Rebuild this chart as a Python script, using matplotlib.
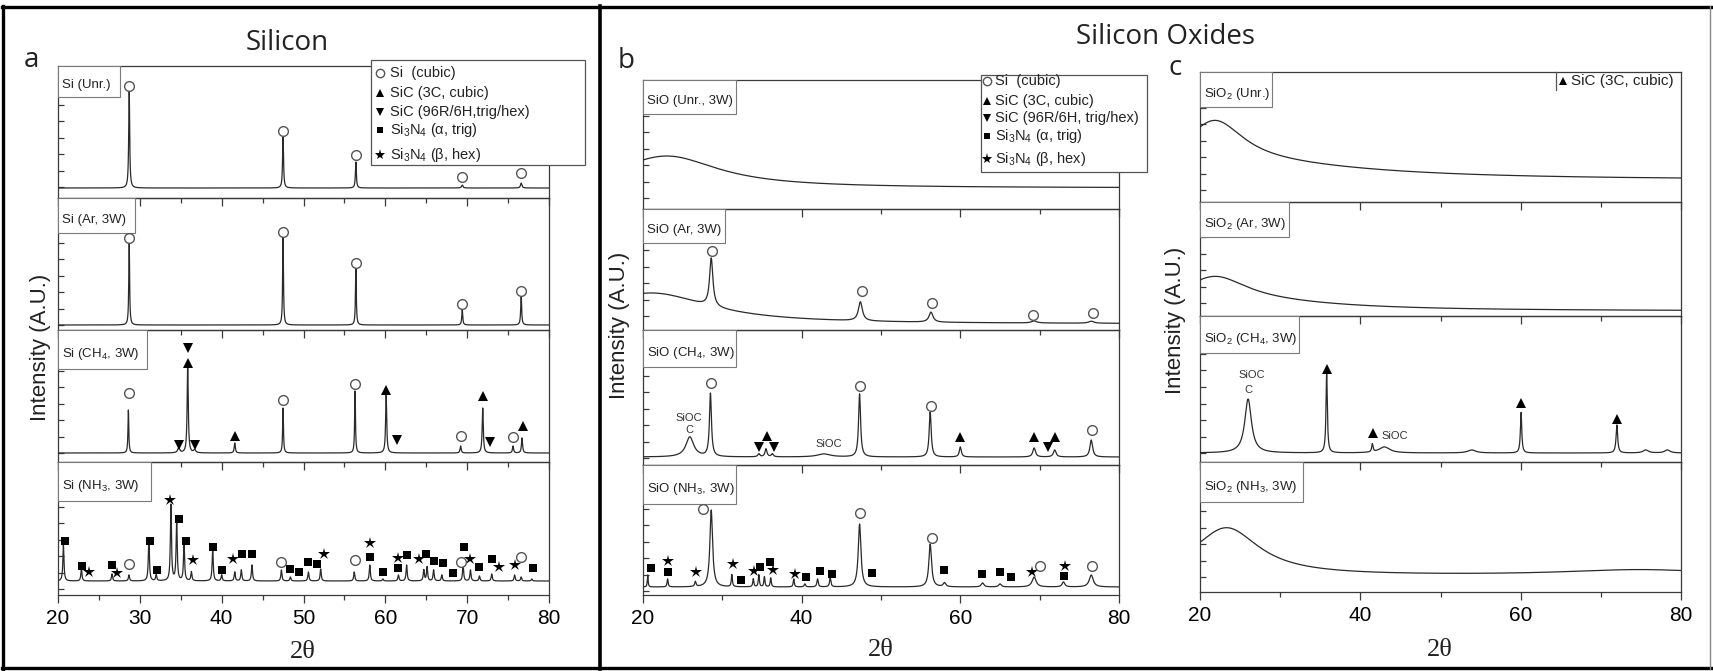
import numpy as np
import matplotlib.pyplot as plt
from matplotlib.lines import Line2D
from matplotlib.patches import Rectangle
from matplotlib.ticker import MultipleLocator

plt.rcParams['font.family'] = ['Liberation Sans', 'DejaVu Sans']
plt.rcParams['mathtext.fontset'] = 'custom'
plt.rcParams['mathtext.rm'] = 'Liberation Sans'
plt.rcParams['mathtext.it'] = 'Liberation Sans:italic'
plt.rcParams['mathtext.bf'] = 'Liberation Sans:bold'

W, H = 1713, 671

# 2theta sampling grid (degrees)
two_theta = np.linspace(20, 80, 3001)

# ---------------- Panel a : Silicon ----------------
# peaks: position (deg), height above baseline, half width (deg); intensities in A.U.
si_unr_base = 10
si_unr_pos = [28.7, 47.5, 56.4, 69.4, 76.6]
si_unr_hgt = [98, 51, 26, 3, 5]
si_unr_wid = [0.07, 0.07, 0.07, 0.1, 0.1]
si_unr_circ_x = [28.7, 47.5, 56.4, 69.4, 76.6]
si_unr_circ_y = [112, 67, 43, 21, 25]

si_ar_base = 5
si_ar_pos = [28.7, 47.5, 56.4, 69.4, 76.6]
si_ar_hgt = [83, 88, 57, 15, 29]
si_ar_wid = [0.06, 0.06, 0.06, 0.07, 0.07]
si_ar_circ_x = [28.7, 47.5, 56.4, 69.4, 76.6]
si_ar_circ_y = [92, 98, 67, 26, 39]

si_ch4_base = 9
si_ch4_pos = [28.6, 34.75, 35.85, 36.7, 41.6, 47.5, 56.3, 60.1, 69.2, 71.9, 75.6, 76.7]
si_ch4_hgt = [43, 5, 90, 3, 10, 45, 62, 58, 7, 45, 7, 15]
si_ch4_wid = [0.06, 0.15, 0.08, 0.15, 0.08, 0.06, 0.06, 0.08, 0.08, 0.08, 0.08, 0.08]
si_ch4_circ_x = [28.7, 47.5, 56.3, 69.2, 75.6]
si_ch4_circ_y = [69, 62, 78, 26, 25]
si_ch4_up_x = [35.85, 41.6, 60.1, 71.9, 76.8]
si_ch4_up_y = [99, 26, 72, 66, 36]
si_ch4_dn_x = [35.85, 34.75, 36.7, 61.4, 72.8]
si_ch4_dn_y = [114, 17, 17, 22, 20]

si_nh3_base = 14
si_nh3_pos = [20.66, 22.86, 26.6, 28.67, 31.1, 32.0, 33.8, 34.5, 35.4, 36.3, 38.9, 40.0,
              41.6, 42.4, 43.7, 47.3, 48.4, 50.6, 52.1, 56.2, 58.1, 59.7, 61.6, 62.6,
              64.7, 65.1, 65.9, 66.9, 69.5, 70.4, 71.5, 73.0, 75.8, 76.6, 77.9]
si_nh3_hgt = [36, 12, 7, 6, 42, 6, 76, 61, 37, 9, 32, 6,
              9, 11, 16, 11, 4, 9, 12, 9, 16, 2, 6, 16,
              11, 14, 11, 6, 16, 11, 5, 7, 6, 4, 2]
si_nh3_wid = [0.08] * 35
si_nh3_sq_x = [20.8, 22.95, 26.6, 31.2, 32.15, 34.75, 35.6, 39.0, 40.1, 42.45, 43.7, 48.4, 49.5,
               50.6, 51.7, 58.1, 59.7, 61.6, 62.6, 65.0, 65.9, 67.1, 68.3, 69.6, 71.45, 73.0, 78.1]
si_nh3_sq_y = [54, 29, 30, 54, 25, 76, 54, 48, 25, 41, 41, 26, 23,
               33, 31, 38, 23, 27, 40, 41, 34, 32, 22, 48, 28, 36, 27]
si_nh3_star_x = [23.8, 27.2, 33.7, 36.55, 41.4, 52.5, 58.1, 61.6, 64.1, 70.4, 73.9, 75.8]
si_nh3_star_y = [23, 22, 95, 35, 36, 41, 52, 37, 36, 36, 28, 30]
si_nh3_circ_x = [28.7, 47.3, 56.3, 69.2, 76.6]
si_nh3_circ_y = [31, 33, 35, 33, 38]

# ---------------- Panel b : SiO ----------------
sio_unr_base = 21
sio_unr_pos = [23.0]
sio_unr_hgt = [32]
sio_unr_wid = [8.0]

sio_ar_base = 6
sio_ar_pos = [21.0, 28.6, 47.4, 56.3, 69.3, 76.5]
sio_ar_hgt = [31, 48, 19, 10, 2, 2]
sio_ar_wid = [9.0, 0.25, 0.3, 0.3, 0.4, 0.4]
sio_ar_circ_x = [28.7, 47.6, 56.4, 69.2, 76.7]
sio_ar_circ_y = [79, 39, 27, 15, 17]

sio_ch4_base = 8
sio_ch4_pos = [25.9, 28.5, 34.6, 35.5, 36.3, 42.8, 47.3, 56.2, 60.0, 69.3, 71.9, 76.5]
sio_ch4_hgt = [20, 63, 3, 8, 3, 3, 63, 45, 10, 9, 7, 17]
sio_ch4_wid = [0.6, 0.15, 0.15, 0.15, 0.15, 1.0, 0.15, 0.15, 0.15, 0.2, 0.2, 0.2]
sio_ch4_circ_x = [28.6, 47.4, 56.3, 76.6]
sio_ch4_circ_y = [82, 79, 59, 35]
sio_ch4_up_x = [35.6, 60.0, 69.3, 71.9]
sio_ch4_up_y = [29, 28, 28, 28]
sio_ch4_dn_x = [34.6, 36.5, 71.0]
sio_ch4_dn_y = [18, 18, 18]
sio_ch4_note_x = [25.8, 25.9, 43.4]
sio_ch4_note_y = [47, 35, 21]
sio_ch4_note_txt = ['SiOC', 'C', 'SiOC']

sio_nh3_base = 8
sio_nh3_pos = [20.6, 23.1, 26.6, 28.6, 31.2, 33.9, 34.6, 35.3, 36.1, 39.0, 40.4, 42.0, 43.6,
               47.3, 56.2, 58.0, 62.8, 65.0, 69.3, 73.0, 76.5]
sio_nh3_hgt = [12, 8, 5, 77, 12, 8, 12, 10, 9, 8, 3, 8, 9, 63, 43, 4, 4, 3, 10, 5, 12]
sio_nh3_wid = [0.06, 0.08, 0.1, 0.2, 0.08, 0.08, 0.08, 0.08, 0.08, 0.08, 0.1, 0.1, 0.1,
               0.2, 0.2, 0.2, 0.2, 0.2, 0.3, 0.2, 0.3]
sio_nh3_sq_x = [21.0, 23.2, 32.3, 34.8, 36.0, 40.5, 42.25, 43.8, 48.9, 57.9, 62.7, 65.0, 66.4, 73.1]
sio_nh3_sq_y = [27, 23, 15, 28, 33, 18, 24, 21, 22, 25, 21, 23, 18, 19]
sio_nh3_star_x = [23.1, 26.7, 31.35, 34.0, 36.4, 39.1, 69.05, 73.2]
sio_nh3_star_y = [34, 23, 31, 24, 25, 21, 23, 29]
sio_nh3_circ_x = [27.5, 47.4, 56.4, 70.1, 76.6]
sio_nh3_circ_y = [86, 82, 57, 29, 29]

# ---------------- Panel c : SiO2 ----------------
sio2_unr_base = 22
sio2_unr_pos = [21.8, 25.0]
sio2_unr_hgt = [45, 15]
sio2_unr_wid = [4.5, 20.0]

sio2_ar_base = 5
sio2_ar_pos = [21.8, 25.0]
sio2_ar_hgt = [27, 8]
sio2_ar_wid = [5.0, 15.0]

sio2_ch4_base = 9
sio2_ch4_pos = [26.0, 35.8, 41.5, 43.0, 53.9, 60.05, 72.0, 75.6, 78.3]
sio2_ch4_hgt = [54, 79, 8, 6, 3, 41, 28, 3, 3]
sio2_ch4_wid = [0.5, 0.1, 0.1, 0.8, 0.6, 0.1, 0.12, 0.4, 0.4]
sio2_ch4_up_x = [35.8, 41.6, 60.1, 72.0]
sio2_ch4_up_y = [93, 29, 59, 43]
sio2_ch4_note_x = [26.4, 26.0, 44.3]
sio2_ch4_note_y = [87, 72, 26]
sio2_ch4_note_txt = ['SiOC', 'C', 'SiOC']

sio2_nh3_base = 16
sio2_nh3_pos = [23.3, 75.0]
sio2_nh3_hgt = [48, 6]
sio2_nh3_wid = [5.0, 12.0]

# sample labels
a_labels = ['Si (Unr.)', 'Si (Ar, 3W)', 'Si (CH$_4$, 3W)', 'Si (NH$_3$, 3W)']
b_labels = ['SiO (Unr., 3W)', 'SiO (Ar, 3W)', 'SiO (CH$_4$, 3W)', 'SiO (NH$_3$, 3W)']
c_labels = ['SiO$_2$ (Unr.)', 'SiO$_2$ (Ar, 3W)', 'SiO$_2$ (CH$_4$, 3W)', 'SiO$_2$ (NH$_3$, 3W)']

legend_a_txt = ['Si  (cubic)', 'SiC (3C, cubic)', 'SiC (96R/6H,trig/hex)',
                'Si$_3$N$_4$ (α, trig)', 'Si$_3$N$_4$ (β, hex)']
legend_b_txt = ['Si  (cubic)', 'SiC (3C, cubic)', 'SiC (96R/6H, trig/hex)',
                'Si$_3$N$_4$ (α, trig)', 'Si$_3$N$_4$ (β, hex)']


# ---------------- layout (pixels) ----------------
A_X, A_ROWS = (58, 549), [66, 198, 330, 462, 595]
B_X, B_ROWS = (643, 1119), [80, 209, 330, 465, 595]
C_X, C_ROWS = (1200, 1681), [72, 202, 316, 462, 592]
A_TICK0, B_TICK0, C_TICK0 = [11, 5, 9, 6], [11, 14, 7, 4], [12, 13, 9, 15]
A_BOX = [(62, 31), (77, 35), (89, 39), (93, 39)]
B_BOX = [(93, 34), (82, 34), (93, 37), (93, 39)]
C_BOX = [(72, 35), (89, 35), (99, 37), (103, 40)]

LINE_C = '#2a2a2a'
SPINE_C = '#3a3a3a'


def trace(base, pos, hgt, wid):
    y = np.full_like(two_theta, float(base))
    for p, h, w in zip(pos, hgt, wid):
        y += h / (1.0 + ((two_theta - p) / w) ** 2)
    return y


fig = plt.figure(figsize=(W / 100, H / 100), dpi=100)
fig.patch.set_facecolor('white')


def make_panel(xr, rows, tick0, boxes, labels, major, minor):
    axes = []
    x0, x1 = xr
    for i in range(4):
        y0, y1 = rows[i], rows[i + 1]
        ax = fig.add_axes([x0 / W, 1 - y1 / H, (x1 - x0) / W, (y1 - y0) / H])
        ax.patch.set_visible(False)
        rh = y1 - y0
        ax.set_xlim(20, 80)
        ax.set_ylim(0, rh)
        for s in ax.spines.values():
            s.set_color(SPINE_C)
            s.set_linewidth(0.9)
        ax.xaxis.set_major_locator(MultipleLocator(major))
        ax.xaxis.set_minor_locator(MultipleLocator(minor))
        ax.tick_params(axis='x', which='major', direction='out', length=6, width=0.9,
                       color=SPINE_C, labelsize=15, pad=4)
        ax.tick_params(axis='x', which='minor', direction='out', length=3.5, width=0.9,
                       color=SPINE_C)
        ax.set_yticks(np.arange(tick0[i], rh - 2, 16.5))
        ax.tick_params(axis='y', which='major', direction='in', length=4, width=0.9,
                       color=SPINE_C, labelleft=False)
        if i < 3:
            ax.tick_params(axis='x', labelbottom=False)
        bw, bh = boxes[i]
        ax.add_patch(Rectangle((0, 1 - bh / rh), bw / (x1 - x0), bh / rh, transform=ax.transAxes,
                               facecolor='white', edgecolor='#7a7a7a', lw=0.8, zorder=5))
        ax.text(4 / (x1 - x0), 1 - 0.62 * bh / rh, labels[i], transform=ax.transAxes,
                fontsize=9.5, ha='left', va='center', color='#222', zorder=6)
        axes.append(ax)
    return axes


def marks(ax, xs, ys, kind):
    if kind == 'o':
        ax.plot(xs, ys, ls='none', marker='o', ms=7, mfc='white', mec='#555', mew=1.0,
                zorder=7, clip_on=False)
    elif kind == '*':
        ax.plot(xs, ys, ls='none', marker='*', ms=9, color='black', mew=0, zorder=7, clip_on=False)
    elif kind == 's':
        ax.plot(xs, ys, ls='none', marker='s', ms=6.2, color='black', mew=0, zorder=7, clip_on=False)
    else:
        ax.plot(xs, ys, ls='none', marker=kind, ms=6.5, color='black', mew=0, zorder=7, clip_on=False)


def plot_trace(ax, base, pos, hgt, wid):
    ax.plot(two_theta, trace(base, pos, hgt, wid), color=LINE_C, lw=0.9, zorder=3)


# ---- panel a ----
ax_a = make_panel(A_X, A_ROWS, A_TICK0, A_BOX, a_labels, 10, 5)
plot_trace(ax_a[0], si_unr_base, si_unr_pos, si_unr_hgt, si_unr_wid)
marks(ax_a[0], si_unr_circ_x, si_unr_circ_y, 'o')
plot_trace(ax_a[1], si_ar_base, si_ar_pos, si_ar_hgt, si_ar_wid)
marks(ax_a[1], si_ar_circ_x, si_ar_circ_y, 'o')
plot_trace(ax_a[2], si_ch4_base, si_ch4_pos, si_ch4_hgt, si_ch4_wid)
marks(ax_a[2], si_ch4_circ_x, si_ch4_circ_y, 'o')
marks(ax_a[2], si_ch4_up_x, si_ch4_up_y, '^')
marks(ax_a[2], si_ch4_dn_x, si_ch4_dn_y, 'v')
plot_trace(ax_a[3], si_nh3_base, si_nh3_pos, si_nh3_hgt, si_nh3_wid)
marks(ax_a[3], si_nh3_sq_x, si_nh3_sq_y, 's')
marks(ax_a[3], si_nh3_star_x, si_nh3_star_y, '*')
marks(ax_a[3], si_nh3_circ_x, si_nh3_circ_y, 'o')

# ---- panel b ----
ax_b = make_panel(B_X, B_ROWS, B_TICK0, B_BOX, b_labels, 20, 10)
plot_trace(ax_b[0], sio_unr_base, sio_unr_pos, sio_unr_hgt, sio_unr_wid)
plot_trace(ax_b[1], sio_ar_base, sio_ar_pos, sio_ar_hgt, sio_ar_wid)
marks(ax_b[1], sio_ar_circ_x, sio_ar_circ_y, 'o')
plot_trace(ax_b[2], sio_ch4_base, sio_ch4_pos, sio_ch4_hgt, sio_ch4_wid)
marks(ax_b[2], sio_ch4_circ_x, sio_ch4_circ_y, 'o')
marks(ax_b[2], sio_ch4_up_x, sio_ch4_up_y, '^')
marks(ax_b[2], sio_ch4_dn_x, sio_ch4_dn_y, 'v')
for x, y, t in zip(sio_ch4_note_x, sio_ch4_note_y, sio_ch4_note_txt):
    ax_b[2].text(x, y, t, fontsize=8, ha='center', va='center', color='#333', zorder=7)
plot_trace(ax_b[3], sio_nh3_base, sio_nh3_pos, sio_nh3_hgt, sio_nh3_wid)
marks(ax_b[3], sio_nh3_sq_x, sio_nh3_sq_y, 's')
marks(ax_b[3], sio_nh3_star_x, sio_nh3_star_y, '*')
marks(ax_b[3], sio_nh3_circ_x, sio_nh3_circ_y, 'o')

# ---- panel c ----
ax_c = make_panel(C_X, C_ROWS, C_TICK0, C_BOX, c_labels, 20, 10)
plot_trace(ax_c[0], sio2_unr_base, sio2_unr_pos, sio2_unr_hgt, sio2_unr_wid)
plot_trace(ax_c[1], sio2_ar_base, sio2_ar_pos, sio2_ar_hgt, sio2_ar_wid)
plot_trace(ax_c[2], sio2_ch4_base, sio2_ch4_pos, sio2_ch4_hgt, sio2_ch4_wid)
marks(ax_c[2], sio2_ch4_up_x, sio2_ch4_up_y, '^')
for x, y, t in zip(sio2_ch4_note_x, sio2_ch4_note_y, sio2_ch4_note_txt):
    ax_c[2].text(x, y, t, fontsize=8, ha='center', va='center', color='#333', zorder=7)
plot_trace(ax_c[3], sio2_nh3_base, sio2_nh3_pos, sio2_nh3_hgt, sio2_nh3_wid)


# ---- figure-level decorations (pixel helpers) ----
def fx(x):
    return x / W


def fy(y):
    return 1 - y / H


def fig_line(xs, ys, **kw):
    fig.add_artist(Line2D([fx(v) for v in xs], [fy(v) for v in ys], transform=fig.transFigure, **kw))


def fig_marker(x, y, kind):
    if kind == 'o':
        kw = dict(marker='o', ms=6, mfc='white', mec='#555', mew=1.0)
    elif kind == '*':
        kw = dict(marker='*', ms=8, color='black', mew=0)
    elif kind == 's':
        kw = dict(marker='s', ms=5, color='black', mew=0)
    else:
        kw = dict(marker=kind, ms=6, color='black', mew=0)
    fig.add_artist(Line2D([fx(x)], [fy(y)], ls='none', transform=fig.transFigure, zorder=4, **kw))


def draw_legend(box, rows_y, mx, tx, texts, size):
    x0, y0, x1, y1 = box
    fig.add_artist(Rectangle((fx(x0), fy(y1)), (x1 - x0) / W, (y1 - y0) / H, transform=fig.transFigure,
                             facecolor='white', edgecolor='#555', lw=0.9, zorder=3))
    for ky, kind, t in zip(rows_y, ['o', '^', 'v', 's', '*'], texts):
        fig_marker(mx, ky, kind)
        fig.text(fx(tx), fy(ky), t, fontsize=size, ha='left', va='center', color='#222', zorder=5)


draw_legend((371, 60, 585, 165), [73, 93, 112, 130, 155], 380, 390, legend_a_txt, 10.5)
draw_legend((981, 75, 1147, 172), [81, 101, 118, 136, 159], 987, 995, legend_b_txt, 10.5)

# panel c legend
fig_line([1556, 1556], [72, 90], color='#555', lw=0.9, zorder=4)
fig_marker(1563, 81, '^')
fig.text(fx(1571), fy(81), 'SiC (3C, cubic)', fontsize=11, ha='left', va='center', color='#222')

# titles and panel letters
title_font = ['Open Sans', 'DejaVu Sans']
fig.text(fx(287), fy(50), 'Silicon', fontsize=20, family=title_font, ha='center', va='baseline', color='#222')
fig.text(fx(1166), fy(44), 'Silicon Oxides', fontsize=20, family=title_font, ha='center', va='baseline',
         color='#222')
fig.text(fx(24), fy(67), 'a', fontsize=20, family=title_font, ha='left', va='baseline', color='#222')
fig.text(fx(618), fy(68), 'b', fontsize=20, family=title_font, ha='left', va='baseline', color='#222')
fig.text(fx(1169), fy(75), 'c', fontsize=20, family=title_font, ha='left', va='baseline', color='#222')

# axis labels
for cx, cy in [(41, 347), (620, 325), (1176, 320)]:
    fig.text(fx(cx), fy(cy), 'Intensity (A.U.)', fontsize=16, rotation=90, ha='center', va='center',
             color='#222')
for cx, cy in [(303, 652), (881, 650), (1440, 650)]:
    fig.text(fx(cx), fy(cy), '2θ', fontsize=19, family=['Liberation Serif', 'DejaVu Serif'],
             ha='center', va='center', color='#222')

# outer frame and divider
fig_line([3, 3], [6, 669], color='black', lw=2.4, zorder=10)
fig_line([2, 1711], [7, 7], color='black', lw=2.4, zorder=10)
fig_line([2, 1711], [668, 668], color='black', lw=2.4, zorder=10)
fig_line([1710, 1710], [6, 669], color='#888', lw=1.0, zorder=10)
fig_line([600, 600], [6, 669], color='black', lw=2.6, zorder=10)

fig.savefig('out.png', dpi=100, facecolor='white')
